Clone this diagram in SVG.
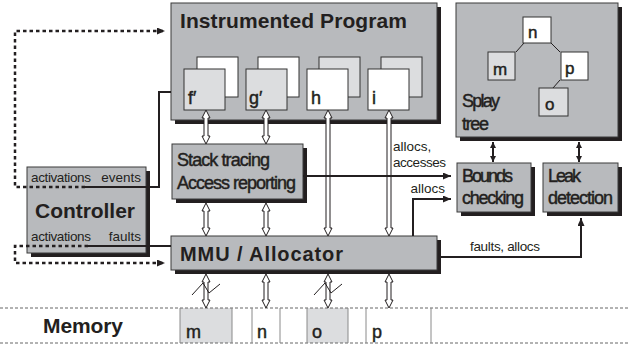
<svg xmlns="http://www.w3.org/2000/svg" width="630" height="347" viewBox="0 0 630 347">
<defs>
<marker id="ah" markerUnits="userSpaceOnUse" markerWidth="9" markerHeight="8" refX="8" refY="3.5" orient="auto"><path d="M0,0 L8,3.5 L0,7 Z" fill="#231f20"/></marker>
<marker id="ahs" markerUnits="userSpaceOnUse" markerWidth="8" markerHeight="8" refX="6" refY="3" orient="auto-start-reverse"><path d="M0,0 L6,3 L0,6 Z" fill="#231f20"/></marker>
<style>
.box{fill:#b8babd;stroke:#3a3a3a;stroke-width:1}
.sh{fill:#231f20}
.lt{fill:#dcdddf;stroke:#333;stroke-width:1}
.wt{fill:#fff;stroke:#333;stroke-width:1}
.t{font-family:"Liberation Sans",Arial,sans-serif;fill:#231f20}
.big{font-size:21px;font-weight:bold}
.med{font-size:18px;stroke:#231f20;stroke-width:0.45px}
.sm{font-size:13.5px}
.ln{fill:none;stroke:#231f20;stroke-width:2}
.dt{fill:none;stroke:#231f20;stroke-width:2.5;stroke-dasharray:3.5 3}
.ha{fill:#fff;stroke:#231f20;stroke-width:1}
.zz{fill:none;stroke:#231f20;stroke-width:1}
.cell{stroke:#8a8a8a;stroke-width:1}
.mem{stroke:#666;stroke-width:1;stroke-dasharray:3 2;fill:none}
</style>
</defs>

<g id="memory">
<rect x="180" y="308" width="52" height="35" fill="#dcdddf"/>
<rect x="307" y="308" width="41" height="35" fill="#dcdddf"/>
<line class="mem" x1="0" y1="308" x2="630" y2="308"/>
<line class="mem" x1="0" y1="343" x2="630" y2="343"/>
<g class="cell">
<line x1="180" y1="308" x2="180" y2="343"/><line x1="232" y1="308" x2="232" y2="343"/>
<line x1="252" y1="308" x2="252" y2="343"/><line x1="280" y1="308" x2="280" y2="343"/>
<line x1="307" y1="308" x2="307" y2="343"/><line x1="348" y1="308" x2="348" y2="343"/>
<line x1="366" y1="308" x2="366" y2="343"/><line x1="431" y1="308" x2="431" y2="343"/>
</g>
<text class="t big" x="43" y="333" textLength="80">Memory</text>
<text class="t med" x="186" y="338">m</text>
<text class="t med" x="257" y="338">n</text>
<text class="t med" x="312" y="338">o</text>
<text class="t med" x="372" y="338">p</text>
</g>

<g id="program">
<rect class="sh" x="175" y="7" width="266" height="117"/>
<rect class="box" x="171" y="3" width="266" height="117"/>
<text class="t big" x="180" y="28" textLength="227">Instrumented Program</text>
<rect class="wt" x="197" y="57" width="41" height="40"/>
<rect class="lt" x="184" y="69" width="41" height="41"/>
<text class="t med" x="188" y="104">f′</text>
<rect class="wt" x="258" y="57" width="41" height="40"/>
<rect class="lt" x="246" y="69" width="41" height="41"/>
<text class="t med" x="249" y="104">g′</text>
<rect class="lt" x="319" y="57" width="41" height="40"/>
<rect class="wt" x="307" y="69" width="41" height="41"/>
<text class="t med" x="311" y="104">h</text>
<rect class="lt" x="381" y="57" width="41" height="40"/>
<rect class="wt" x="368" y="69" width="41" height="41"/>
<text class="t med" x="372" y="104">i</text>
</g>

<g id="splay">
<rect class="sh" x="460" y="7" width="162" height="134"/>
<rect class="box" x="456" y="3" width="162" height="134"/>
<g class="zz"><line x1="516" y1="52" x2="524" y2="43"/><line x1="551" y1="43" x2="560" y2="52"/><line x1="560" y1="80" x2="553" y2="88"/></g>
<rect class="wt" x="523" y="17" width="28" height="26"/>
<rect class="lt" x="488" y="52" width="27" height="28"/>
<rect class="wt" x="561" y="52" width="27" height="28"/>
<rect class="lt" x="539" y="88" width="29" height="28"/>
<text class="t med" x="528" y="38" style="font-size:17px">n</text>
<text class="t med" x="493" y="75" style="font-size:17px">m</text>
<text class="t med" x="565" y="74" style="font-size:17px">p</text>
<text class="t med" x="545" y="110" style="font-size:17px">o</text>
<text class="t med" x="462" y="107" textLength="38">Splay</text>
<text class="t med" x="462" y="130" textLength="27">tree</text>
</g>

<g id="stack">
<rect class="sh" x="176" y="148" width="131" height="55"/>
<rect class="box" x="172" y="144" width="131" height="55"/>
<text class="t med" x="177" y="166" textLength="93">Stack tracing</text>
<text class="t med" x="177" y="189" textLength="119">Access reporting</text>
</g>

<g id="controller">
<rect class="sh" x="31" y="171" width="119" height="86"/>
<rect class="box" x="27" y="167" width="119" height="86"/>
<text class="t sm" x="31" y="182" textLength="60">activations</text>
<text class="t sm" x="141" y="182" text-anchor="end">events</text>
<text class="t big" x="35" y="218" textLength="100">Controller</text>
<text class="t sm" x="31" y="241" textLength="60">activations</text>
<text class="t sm" x="141" y="241" text-anchor="end">faults</text>
</g>

<g id="mmu">
<rect class="sh" x="175" y="240" width="266" height="34"/>
<rect class="box" x="171" y="236" width="266" height="34"/>
<text class="t big" x="180" y="261" style="font-size:20px" textLength="163">MMU / Allocator</text>
</g>

<g id="bounds">
<rect class="sh" x="461" y="167" width="74" height="49"/>
<rect class="box" x="457" y="163" width="74" height="49"/>
<text class="t med" x="462" y="182" textLength="51">Bounds</text>
<text class="t med" x="462" y="204" textLength="62">checking</text>
</g>

<g id="leak">
<rect class="sh" x="547" y="167" width="75" height="49"/>
<rect class="box" x="543" y="163" width="75" height="49"/>
<text class="t med" x="548" y="182" textLength="33">Leak</text>
<text class="t med" x="548" y="204" textLength="65">detection</text>
</g>

<g id="connectors">
<path class="ha" d="M206,110 L210,118 L208,118 L208,136 L210,136 L206,144 L202,136 L204,136 L204,118 L202,118 Z"/>
<path class="ha" d="M266,110 L270,118 L268,118 L268,136 L270,136 L266,144 L262,136 L264,136 L264,118 L262,118 Z"/>
<path class="ha" d="M206,203 L210,211 L208,211 L208,228 L210,228 L206,236 L202,228 L204,228 L204,211 L202,211 Z"/>
<path class="ha" d="M266,203 L270,211 L268,211 L268,228 L270,228 L266,236 L262,228 L264,228 L264,211 L262,211 Z"/>
<path class="ha" d="M328,110 L332,118 L330,118 L330,228 L332,228 L328,236 L324,228 L326,228 L326,118 L324,118 Z"/>
<path class="ha" d="M389,110 L393,118 L391,118 L391,228 L393,228 L389,236 L385,228 L387,228 L387,118 L385,118 Z"/>
<path class="ha" d="M206,274 L210,282 L208,282 L208,300 L210,300 L206,308 L202,300 L204,300 L204,282 L202,282 Z"/>
<path class="ha" d="M266,274 L270,282 L268,282 L268,300 L270,300 L266,308 L262,300 L264,300 L264,282 L262,282 Z"/>
<path class="ha" d="M328,274 L332,282 L330,282 L330,300 L332,300 L328,308 L324,300 L326,300 L326,282 L324,282 Z"/>
<path class="ha" d="M389,274 L393,282 L391,282 L391,300 L393,300 L389,308 L385,300 L387,300 L387,282 L385,282 Z"/>
<polyline class="zz" points="192,295 203,283 209,293 220,284"/>
<polyline class="zz" points="314,295 325,283 331,293 342,284"/>

<path class="ln" d="M85,187 H159 V92 H171"/>
<path class="dt" d="M85,187 H15 V31 H165" marker-end="url(#ah)"/>
<path class="ln" d="M88,246 H171"/>
<path class="dt" d="M88,246 H15 V263 H165" marker-end="url(#ah)"/>

<path class="ln" d="M303,176 H451" marker-end="url(#ah)"/>
<path class="ln" d="M413,236 V199 H451" marker-end="url(#ah)"/>
<path class="ln" d="M441,257 H581 V218" marker-end="url(#ah)"/>
<line class="ln" x1="493" y1="142" x2="493" y2="162" marker-start="url(#ahs)" marker-end="url(#ahs)"/>
<line class="ln" x1="579" y1="142" x2="579" y2="162" marker-start="url(#ahs)" marker-end="url(#ahs)"/>

<text class="t sm" x="393" y="151">allocs,</text>
<text class="t sm" x="393" y="167" textLength="53">accesses</text>
<text class="t sm" x="445" y="193" text-anchor="end">allocs</text>
<text class="t sm" x="470" y="251" textLength="70">faults, allocs</text>
</g>
</svg>
